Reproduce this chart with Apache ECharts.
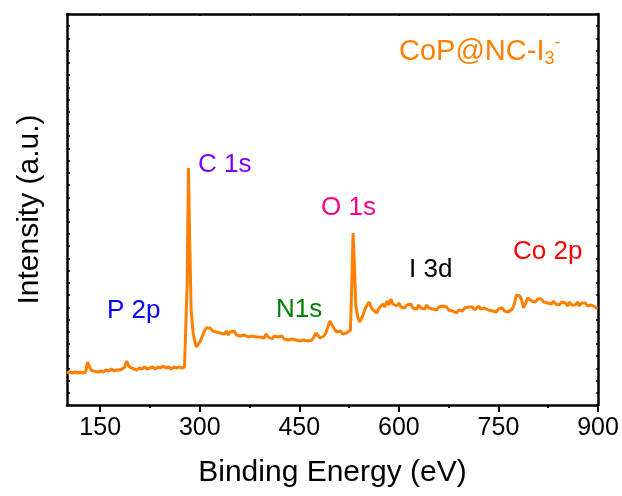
<!DOCTYPE html>
<html>
<head>
<meta charset="utf-8">
<script src="https://cdn.jsdelivr.net/npm/echarts@6/dist/echarts.min.js"></script>
<style>
  html, body { margin: 0; padding: 0; background: #fff; }
  #main { width: 622px; height: 496px; }
</style>
</head>
<body>
<div id="main"></div>
<script>
// survey spectrum (intensity in arbitrary units)
var energy = [100, 104, 108, 112, 116, 120, 124, 128, 131, 133, 136, 140, 143, 147, 151, 155, 159, 163, 167, 171,
    175, 179, 183, 187, 190, 193, 197, 201, 205, 209, 213, 217, 221, 225, 229, 233, 237, 241, 245, 249,
    253, 257, 261, 265, 269, 273, 277, 279, 281, 283, 285, 287, 290, 293, 295, 298, 301, 304, 307, 310,
    313, 316, 319, 322, 325, 328, 331, 334, 337, 340, 343, 346, 349, 352, 355, 358, 361, 364, 367, 370,
    373, 376, 379, 382, 385, 388, 391, 394, 397, 400, 403, 406, 409, 412, 415, 418, 421, 424, 427, 430,
    433, 436, 439, 442, 445, 448, 451, 454, 457, 460, 463, 466, 469, 472, 475, 478, 481, 484, 487, 490,
    493, 496, 498, 500, 503, 506, 509, 512, 515, 518, 521, 524, 527, 529, 531, 533, 535, 538, 541, 543,
    546, 549, 552, 555, 558, 561, 564, 567, 570, 573, 576, 579, 582, 585, 588, 591, 594, 597, 600, 603,
    606, 609, 612, 615, 618, 621, 624, 627, 630, 633, 636, 639, 642, 645, 648, 651, 654, 657, 660, 663,
    666, 669, 672, 675, 678, 681, 684, 687, 690, 693, 696, 699, 702, 705, 708, 711, 714, 717, 720, 723,
    726, 729, 732, 735, 738, 741, 744, 747, 750, 753, 756, 759, 762, 765, 768, 771, 774, 777, 780, 782,
    785, 788, 791, 794, 797, 800, 803, 806, 809, 812, 815, 818, 821, 824, 827, 830, 833, 836, 839, 842,
    845, 848, 851, 854, 857, 860, 863, 866, 869, 872, 875, 878, 881, 884, 887, 890, 893, 896, 899];
var intensity = [32, 33, 32, 33, 32, 33, 32, 33, 43, 40, 35, 34, 32, 33, 34, 33, 35, 34, 36, 34,
    35, 35, 36, 38, 44, 39, 37, 36, 35, 37, 36, 38, 36, 37, 38, 36, 38, 37, 39, 37,
    38, 36, 38, 37, 38, 37, 38, 40, 120, 237, 160, 95, 72, 62, 58, 60, 64, 69, 74, 77,
    75, 77, 74, 76, 73, 75, 72, 74, 71, 74, 70, 73, 71, 74, 70, 72, 69, 71, 70, 72,
    68, 70, 69, 71, 68, 70, 68, 70, 67, 71, 68, 69, 66, 69, 67, 68, 66, 69, 66, 68,
    65, 67, 66, 68, 65, 67, 64, 66, 65, 67, 64, 66, 65, 68, 72, 70, 67, 66, 69, 72,
    78, 84, 84, 79, 76, 73, 72, 74, 71, 73, 72, 74, 75, 120, 172, 140, 100, 88, 83, 84,
    90, 96, 100, 103, 98, 95, 93, 92, 97, 99, 101, 98, 104, 100, 106, 101, 103, 99, 102, 98,
    100, 97, 100, 98, 101, 97, 99, 96, 100, 97, 99, 96, 100, 97, 99, 96, 98, 95, 98, 96,
    99, 97, 98, 95, 97, 94, 93, 92, 95, 97, 94, 97, 95, 98, 96, 98, 95, 97, 99, 96,
    98, 97, 99, 95, 97, 94, 96, 93, 96, 94, 97, 94, 95, 93, 94, 96, 101, 110, 112, 109,
    105, 97, 102, 107, 108, 104, 106, 103, 106, 104, 106, 103, 105, 102, 104, 101, 104, 101, 103, 100,
    103, 101, 102, 99, 103, 100, 102, 100, 103, 99, 102, 100, 102, 99, 101, 100, 99, 98, 96];
var majorTicks = [150, 300, 450, 600, 750, 900];
var minorTicks = [225, 375, 525, 675, 825];
var topTicks = [150, 225, 300, 375, 450, 525, 600, 675, 750, 825, 900];
var peakNames = ['P 2p', 'C 1s', 'N1s', 'O 1s', 'I 3d', 'Co 2p'];
var peakColors = ['#0000ff', '#8000ff', '#008000', '#ff0080', '#000000', '#ff0000'];

var FONT = '"Liberation Sans", Arial, sans-serif';
var ORANGE = '#ff8000';

var myChart = echarts.init(document.getElementById('main'));

var points = energy.map(function (e, i) { return [e, intensity[i]]; });

// label anchor spots (pixels), left edge + vertical middle
var peakSpots = [[107, 311], [198, 165], [276, 310], [321, 208], [409, 270], [513, 252]];

var graphics = peakNames.map(function (name, i) {
    return {
        type: 'text',
        x: peakSpots[i][0],
        y: peakSpots[i][1],
        style: {
            text: name,
            fill: peakColors[i],
            font: '26px ' + FONT,
            verticalAlign: 'middle'
        }
    };
});
graphics.push({
    type: 'text',
    x: 399,
    y: 50,
    style: {
        text: '{a|CoP@NC-I}{b|3}{c|-}',
        verticalAlign: 'middle',
        rich: {
            a: { fontSize: 29, fontFamily: FONT, fill: ORANGE, lineHeight: 32, verticalAlign: 'bottom' },
            b: { fontSize: 18, fontFamily: FONT, fill: ORANGE, lineHeight: 32, verticalAlign: 'bottom', padding: [0, 0, -2, 0] },
            c: { fontSize: 17, fontFamily: FONT, fill: ORANGE, lineHeight: 32, verticalAlign: 'top' }
        }
    }
});

var option = {
    animation: false,
    backgroundColor: '#fff',
    grid: { left: 67, top: 14, right: 24, bottom: 91 },
    xAxis: [{
            type: 'value',
            min: 100,
            max: 900,
            position: 'bottom',
            name: 'Binding Energy (eV)',
            nameLocation: 'middle',
            nameGap: 53,
            nameTextStyle: { fontSize: 30, fontFamily: FONT, color: '#000' },
            axisLine: { show: true, lineStyle: { color: '#000', width: 2.5 } },
            axisTick: { show: true, customValues: majorTicks, length: 7, lineStyle: { color: '#000', width: 2 } },
            axisLabel: { customValues: majorTicks, fontSize: 25, fontFamily: FONT, color: '#000', margin: 11 },
            splitLine: { show: false }
        },
        {
            type: 'value',
            min: 100,
            max: 900,
            position: 'bottom',
            axisLine: { show: false },
            axisTick: { show: true, customValues: minorTicks, length: 3, lineStyle: { color: '#000', width: 2 } },
            axisLabel: { show: false },
            splitLine: { show: false }
        },
        {
            type: 'value',
            min: 100,
            max: 900,
            position: 'top',
            axisLine: { show: true, lineStyle: { color: '#000', width: 2.5 } },
            axisTick: { show: true, inside: true, customValues: topTicks, length: 2, lineStyle: { color: '#000', width: 1.5 } },
            axisLabel: { show: false },
            splitLine: { show: false }
        }],
    yAxis: [{
            type: 'value',
            min: 0,
            max: 391,
            interval: 391 / 32,
            position: 'left',
            name: 'Intensity (a.u.)',
            nameLocation: 'middle',
            nameGap: 22,
            nameTextStyle: { fontSize: 30, fontFamily: FONT, color: '#000' },
            axisLine: { show: true, lineStyle: { color: '#000', width: 2.5 } },
            axisTick: { show: true, inside: true, length: 3, lineStyle: { color: '#000', width: 1.5 } },
            axisLabel: { show: false },
            splitLine: { show: false }
        },
        {
            type: 'value',
            min: 0,
            max: 391,
            interval: 391 / 32,
            position: 'right',
            axisLine: { show: true, lineStyle: { color: '#000', width: 2.5 } },
            axisTick: { show: true, inside: true, length: 2, lineStyle: { color: '#000', width: 1.5 } },
            axisLabel: { show: false },
            splitLine: { show: false }
        }],
    series: [{
            name: 'CoP@NC-I3-',
            type: 'line',
            data: points,
            showSymbol: false,
            smooth: false,
            lineStyle: { color: ORANGE, width: 3 },
            z: 3
        }],
    graphic: graphics
};
myChart.setOption(option);
</script>
</body>
</html>
